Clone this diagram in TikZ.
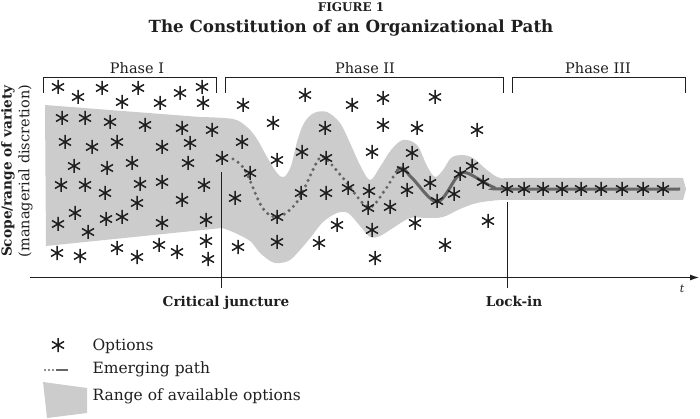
\documentclass[tikz,border=0pt]{standalone}
\usepackage{fontspec}
\setmainfont{DejaVu Serif}
\usetikzlibrary{arrows.meta}

\definecolor{bandgray}{gray}{0.8}
\definecolor{pathgray}{gray}{0.4}
\definecolor{inkgray}{gray}{0.12}

\tikzset{
  opt/.pic={\draw[inkgray, line width=1.5pt] (0,-7) -- (0,7)
      (-6,-3.5) -- (6,3.5) (-6,3.5) -- (6,-3.5);},
  bracket/.style={inkgray, line width=0.9pt},
  phase/.style={anchor=base, text=inkgray, font=\fontsize{14.5}{17}\selectfont},
  caption/.style={anchor=base, text=inkgray, font=\bfseries\fontsize{13.6}{16}\selectfont},
  legendtext/.style={anchor=base west, text=inkgray, font=\fontsize{15.5}{18}\selectfont},
  emerging/.style={pathgray, line width=3pt},
  dots/.style={pathgray, line width=3.4pt, line cap=round, dash pattern=on 0pt off 6pt},
}

\begin{document}
\begin{tikzpicture}[x=1pt, y=-1pt]
    \useasboundingbox (0,0) rectangle (700,419);

    % title
    \node[anchor=base, text=inkgray, font=\bfseries\fontsize{12}{14}\selectfont] (fig) at (351,12) {FIGURE 1};
    \node[anchor=base, text=inkgray, font=\bfseries\fontsize{16.7}{19}\selectfont] (title) at (351,33)
        {The Constitution of an Organizational Path};

    % phases with their brackets
    \node[phase] (ph1) at (137,74) {Phase I};
    \node[phase] (ph2) at (365,74) {Phase II};
    \node[phase] (ph3) at (598,74) {Phase III};
    \draw[bracket] (43,93) |- (216,77) -- (216,93);
    \draw[bracket] (225,93) |- (503,77) -- (503,93);
    \draw[bracket] (512,93) |- (685,77) -- (685,93);

    % range of available options
    \fill[bandgray] (45,105) -- (200,117)
        -- plot[smooth, tension=0.55] coordinates {(200,117) (233,119) (247,127) (257,139)
            (267,157) (277,173) (284,177) (291,166) (297,142) (304,123) (314,113) (327,112)
            (340,123) (350,143) (360,165) (370,180) (380,167) (391,150) (403,140) (417,145)
            (427,166) (435,177) (443,170) (451,158) (461,155) (473,158) (487,170) (500,178)
            (520,178) (683,178)}
        -- (686,189)
        -- plot[smooth, tension=0.55] coordinates {(683,200) (520,200) (500,200) (477,203)
            (460,209) (443,217) (427,218) (410,218) (393,228) (380,236) (370,237) (360,226)
            (348,213) (337,213) (323,222) (311,237) (300,250) (290,260) (280,263) (272,262)
            (260,253) (250,241) (233,232) (222,228)}
        -- (46,246) -- cycle;

    % emerging path: dotted first, solid after
    \path[save path=\emergepath] plot[smooth, tension=0.55] coordinates {(233,159) (245,170)
        (262,207) (277,217) (297,202) (318,160) (326,159) (343,178) (368,207) (385,190)
        (400,168) (412,178) (437,202) (457,177) (467,173) (493,187) (510,189) (680,189)};
    \begin{scope}
        \clip (0,0) rectangle (396,419);
        \draw[dots, use path=\emergepath];
    \end{scope}
    \begin{scope}
        \clip (396,0) rectangle (700,419);
        \draw[emerging, use path=\emergepath];
    \end{scope}

    % options, phase I
    \foreach \x/\y in {58/87, 78/97, 102/88, 122/102, 138/88, 160/103, 180/93, 202/87, 203/103,
        62/118, 85/118, 110/122, 145/125, 182/128, 212/130,
        65/142, 92/147, 117/142, 162/147, 190/143,
        74/166, 107/168, 132/163, 188/163,
        61/185, 85/185, 105/193, 140/184, 162/182, 204/185,
        75/213, 106/219, 122/217, 137/203, 182/200,
        58/224, 88/232, 162/223, 206/220,
        57/253, 80/256, 117/248, 137/257, 159/245, 177/252, 206/241, 208/259}
        \pic at (\x,\y) {opt};

    % options, phase II
    \foreach \x/\y in {243/105, 305/95, 352/105, 383/98, 435/97,
        273/123, 325/128, 383/125, 417/128, 477/130,
        242/142, 302/152, 372/152, 412/153,
        222/158, 277/160, 326/158,
        250/173, 403/170, 460/174, 472/166, 430/183, 483/182,
        235/198, 301/193, 326/193, 348/188, 369/191, 407/190, 454/194, 437/201,
        277/217, 368/208, 390/207,
        337/225, 372/230, 415/223, 488/221,
        238/247, 277/242, 319/243, 445/245, 375/258}
        \pic at (\x,\y) {opt};

    % options, phase III
    \foreach \x in {507,524,543,562,581,601,622,643,663}
        \pic at (\x,189) {opt};

    % time axis, critical juncture and lock-in
    \coordinate (orig) at (30,277.5);
    \coordinate (tend) at (699,277.5);
    \draw[inkgray, line width=1pt, -{Latex[length=9pt, width=6pt]}] (orig) -- (tend);
    \node[text=inkgray, font=\itshape\fontsize{11}{13}\selectfont] (t) at (682,289) {t};

    \coordinate (cjtop) at (221.5,172);
    \coordinate (cjbot) at (221.5,288);
    \draw[inkgray, line width=1pt] (cjtop) -- (cjbot);
    \node[caption] (cj) at (226,306) {Critical juncture};

    \coordinate (lktop) at (507,202);
    \coordinate (lkbot) at (507,288);
    \draw[inkgray, line width=1pt] (lktop) -- (lkbot);
    \node[caption] (lk) at (514,306) {Lock-in};

    % vertical axis label
    \node[rotate=90, text=inkgray, font=\bfseries\fontsize{13.7}{16}\selectfont] (scope) at (8,171)
        {Scope/range of variety};
    \node[rotate=90, text=inkgray, font=\fontsize{14.5}{17}\selectfont] (discr) at (25.5,171)
        {(managerial discretion)};

    % legend
    \pic at (58,345) {opt};
    \node[legendtext] (lopt) at (89,350) {Options};
    \coordinate (lpa) at (45,370);
    \coordinate (lpb) at (56,370);
    \coordinate (lpc) at (68,370);
    \draw[dots, line width=2.2pt, dash pattern=on 0pt off 4pt] (lpa) -- (lpb);
    \draw[emerging, line width=2.5pt] (lpb) -- (lpc);
    \node[legendtext] (lpath) at (89,373) {Emerging path};
    \fill[bandgray] (43,382) -- (87,388) -- (87,413) -- (47,418) -- cycle;
    \node[legendtext] (lrange) at (89,400) {Range of available options};
\end{tikzpicture}
\end{document}
